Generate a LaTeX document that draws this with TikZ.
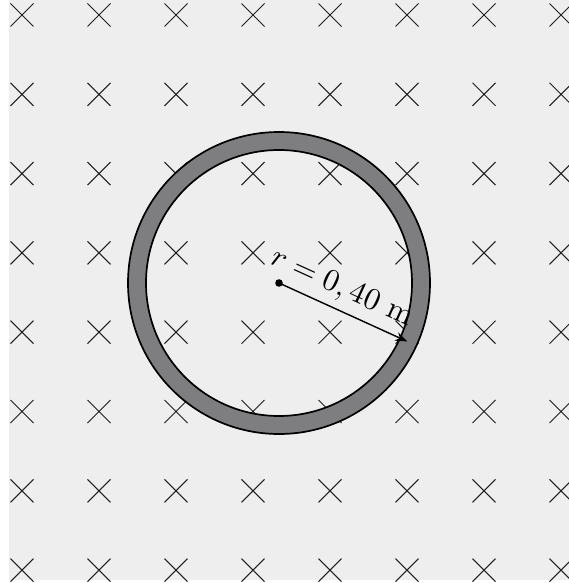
\documentclass[tikz,border=0pt]{standalone}
\usepackage{graphicx}
\usetikzlibrary{arrows.meta,calc}
\definecolor{FieldPaper}{HTML}{EEEEEE}
\definecolor{RingGrey}{HTML}{7E7E80}
\definecolor{FieldInk}{HTML}{1E1E1E}
\tikzset{
  every node/.style={text=black},
  crossmark/.style={draw=FieldInk, line width=1pt},
  ring/.style={draw=black, line width=1.7pt},
  radius arrow/.style={-{Stealth[length=12pt,width=9pt]}, draw=black, line width=1.4pt},
}

\begin{document}
\begin{tikzpicture}[x=1pt,y=-1pt]
  \useasboundingbox (0,0) rectangle (569,583);
  % Field region
  \fill[FieldPaper] (9,0) rectangle (569,580);
  % Field into the page: grid of crosses
  \foreach \i in {0,...,7} {
    \foreach \j in {0,...,7} {
      \draw[crossmark] (22+77*\i-11.5,15+79.3*\j-11.5) -- ++(23,23)
        (22+77*\i-11.5,15+79.3*\j+11.5) -- ++(23,-23);
    }
  }
  % Conducting ring
  \coordinate (centre) at (279,283);
  \fill[RingGrey, even odd rule] (centre) circle[radius=151pt] (centre) circle[radius=133pt];
  \draw[ring] (centre) circle[radius=151pt];
  \draw[ring] (centre) circle[radius=133pt];
  % Radius
  \coordinate (tip) at ($(centre)+(-24.5:141pt)$);
  \fill (centre) circle[radius=3.8pt];
  \draw[radius arrow] (centre) -- node[sloped, above, pos=0.42, inner sep=7pt]
    {\scalebox{3.1}{$r = 0, 40\ \mathrm{m}$}} (tip);
\end{tikzpicture}
\end{document}
